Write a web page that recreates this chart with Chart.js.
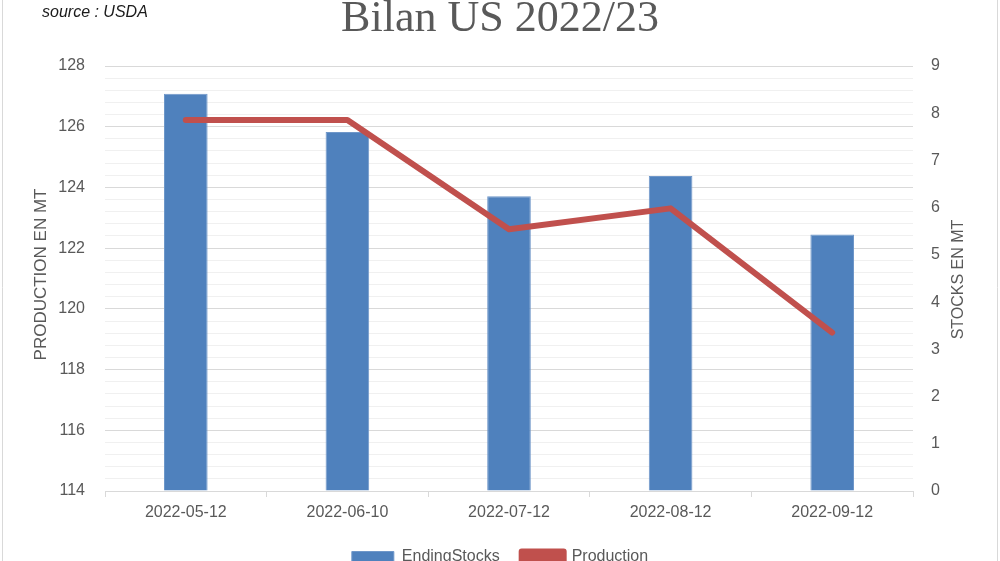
<!DOCTYPE html>
<html>
<head>
<meta charset="utf-8">
<script src="https://cdn.jsdelivr.net/npm/chart.js@4"></script>
<style>
  html, body { margin: 0; padding: 0; background: #fff; overflow: hidden; }
  #wrap { position: relative; width: 1000px; height: 575px; }
</style>
</head>
<body>
<div id="wrap"><canvas id="chart_BilanUS"></canvas></div>
<script>
// data
const categories = ["2022-05-12", "2022-06-10", "2022-07-12", "2022-08-12", "2022-09-12"];
const endingStocks = [8.41, 7.6, 6.24, 6.67, 5.43];
const production = [126.22, 126.22, 122.62, 123.31, 119.22];

const chartTitle = "Bilan US 2022/23";
const sourceText = "source : USDA";
const leftTitle = "PRODUCTION EN MT";
const rightTitle = "STOCKS EN MT";

const tickColor = "#595959";
const gridMajor = "#d9d9d9";
const gridMinor = "#f0f0f0";

// title, source, axis titles (both read bottom-to-top) and frame
const headerPlugin = {
    id: "header",
    afterDraw(chart) {
        const c = chart.ctx;
        const mid = (chart.chartArea.top + chart.chartArea.bottom) / 2;
        c.save();
        c.fillStyle = tickColor;
        c.font = "44px 'Liberation Serif', serif";
        c.textAlign = "center";
        c.textBaseline = "alphabetic";
        c.fillText(chartTitle, 500, 31);

        c.textBaseline = "middle";
        c.font = "17px 'Liberation Sans', sans-serif";
        c.save();
        c.translate(41, mid - 4);
        c.rotate(-Math.PI / 2);
        c.fillText(leftTitle, 0, 0);
        c.restore();
        c.font = "16px 'Liberation Sans', sans-serif";
        c.save();
        c.translate(959, mid + 1);
        c.rotate(-Math.PI / 2);
        c.fillText(rightTitle, 0, 0);
        c.restore();

        c.fillStyle = "#1a1a1a";
        c.font = "italic 16px 'Liberation Sans', sans-serif";
        c.textAlign = "left";
        c.textBaseline = "alphabetic";
        c.fillText(sourceText, 42, 17);
        c.strokeStyle = "#d9d9d9";
        c.lineWidth = 1;
        c.beginPath();
        c.moveTo(2.5, 0); c.lineTo(2.5, 575);
        c.moveTo(997.5, 0); c.lineTo(997.5, 575);
        c.stroke();
        c.restore();
    },
};

const ctx = document.getElementById("chart_BilanUS").getContext("2d");
const chart_BilanUS = new Chart(ctx, {
    type: "bar",
    data: {
        labels: categories,
        datasets: [
            {
                type: "line",
                label: "Production",
                data: production,
                borderColor: "#c0504d",
                backgroundColor: "#c0504d",
                borderWidth: 6,
                borderCapStyle: "round",
                borderJoinStyle: "round",
                pointRadius: 0,
                tension: 0,
                yAxisID: "y1",
                order: 0,
            },
            {
                type: "bar",
                label: "EndingStocks",
                data: endingStocks,
                backgroundColor: "#4f81bd",
                borderColor: "#6f97c9",
                borderWidth: 1,
                barPercentage: 0.27,
                categoryPercentage: 1,
                yAxisID: "y2",
                order: 1,
            },
        ],
    },
    options: {
        responsive: true,
        maintainAspectRatio: false,
        animation: false,
        layout: { padding: { top: 66, left: 0, right: 0, bottom: 0 } },
        plugins: {
            title: { display: false },
            tooltip: { enabled: false },
            legend: {
                display: true,
                position: "bottom",
                reverse: true,
                labels: {
                    color: tickColor,
                    font: { size: 16, family: "'Liberation Sans', sans-serif" },
                    boxWidth: 42,
                    boxHeight: 11,
                    padding: 22,
                },
            },
        },
        scales: {
            x: {
                offset: true,
                grid: {
                    offset: true,
                    drawOnChartArea: false,
                    drawTicks: true,
                    tickLength: 6,
                    color: gridMajor,
                },
                border: { color: gridMajor },
                ticks: {
                    color: tickColor,
                    font: { size: 16, family: "'Liberation Sans', sans-serif" },
                    maxRotation: 0,
                    padding: 6,
                },
                afterFit(scale) { scale.height = 36; },
            },
            y1: {
                type: "linear",
                position: "left",
                min: 114,
                max: 128,
                ticks: {
                    stepSize: 0.4,
                    autoSkip: false,
                    color: tickColor,
                    font: { size: 16, family: "'Liberation Sans', sans-serif" },
                    padding: 20,
                    callback(v) {
                        const r = Math.round(v);
                        return Math.abs(v - r) < 1e-6 && r % 2 === 0 ? String(r) : "";
                    },
                },
                grid: {
                    drawTicks: false,
                    color(c) {
                        const v = c.tick ? c.tick.value : 0;
                        const r = Math.round(v);
                        return Math.abs(v - r) < 1e-6 && r % 2 === 0 ? gridMajor : gridMinor;
                    },
                },
                border: { display: false },
                title: { display: false },
                afterFit(scale) { scale.width = 105; },
            },
            y2: {
                type: "linear",
                position: "right",
                min: 0,
                max: 9,
                ticks: {
                    stepSize: 1,
                    color: tickColor,
                    font: { size: 16, family: "'Liberation Sans', sans-serif" },
                    padding: 18,
                },
                grid: { drawOnChartArea: false, drawTicks: false },
                border: { display: false },
                title: { display: false },
                afterFit(scale) { scale.width = 87; },
            },
        },
    },
    plugins: [headerPlugin],
});
</script>
</body>
</html>
